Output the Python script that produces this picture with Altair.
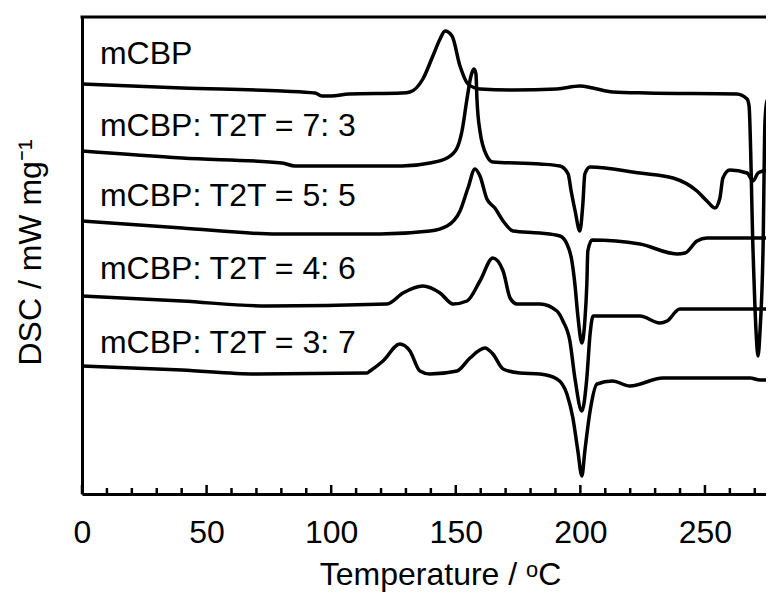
import altair as alt
import pandas as pd

FONT = "Liberation Sans"
W, H = 684, 477

# ---- data (temperature in degC, DSC in arbitrary offset units) ----
mcbp_T = [0, 40.1, 80.3, 93.5, 96.3, 100.0, 107.1, 128.4, 131.6, 136.8, 140.8, 143.7, 145.7, 148.5,
          151.7, 154.9, 159.7, 173.0, 190.6, 199.8, 205.0, 213.0, 226.7, 262.8, 266.9, 267.7,
          269.3, 270.5, 271.3, 272.1, 273.3, 274.1, 274.9, 276.1, 277.7]
mcbp_D = [410, 406, 403, 401, 398, 398, 400, 401, 402, 415, 438, 455, 463, 458,
          428, 410, 405, 404, 405, 408, 406, 402, 401, 400, 395, 388,
          243, 163, 138, 163, 243, 373, 393, 397, 398]

r73_T = [0, 40.1, 80.3, 85.5, 128.4, 139.6, 146.5, 150.5, 152.5, 154.5, 156.1, 157.3, 158.1,
         158.5, 159.7, 162.5, 164.9, 183.8, 191.8, 195.1, 196.3, 197.9, 199.8, 201.0, 201.8,
         203.9, 223.9, 237.2, 246.8, 250.8, 254.0, 256.0, 257.2, 260.0, 266.9, 269.3, 271.3,
         273.3, 277.7]
r73_D = [343, 336, 331, 328, 328, 331, 336, 346, 363, 395, 418, 425, 420,
         395, 363, 338, 332, 330, 328, 320, 303, 283, 263, 290, 320,
         327, 321, 316, 303, 293, 286, 296, 316, 324, 321, 313, 321,
         323, 324]

r55_T = [0, 40.1, 78.2, 119.6, 139.6, 146.5, 151.7, 154.9, 157.7, 159.7, 162.5, 165.7, 169.0,
         173.0, 183.8, 191.8, 194.6, 196.6, 197.8, 199.0, 200.6, 201.8, 202.6, 203.0, 204.7,
         223.9, 238.8, 242.0, 246.8, 250.8, 277.7]
r55_D = [273, 266, 260, 260, 263, 268, 283, 306, 325, 318, 295, 286, 273,
         263, 261, 258, 250, 233, 210, 178, 151, 173, 210, 243, 254,
         250, 240, 241, 253, 256, 256]

r46_T = [0, 40.1, 74.2, 122.4, 128.8, 136.8, 143.7, 148.9, 154.5, 159.7, 164.9, 169.0, 171.8,
         174.6, 183.8, 190.6, 193.0, 195.8, 197.8, 200.6, 202.6, 203.9, 205.1, 223.9, 231.9,
         234.8, 239.9, 277.7]
r46_D = [198, 193, 188, 190, 201, 208, 201, 190, 193, 213, 236, 223, 196,
         190, 190, 183, 173, 153, 116, 83, 116, 160, 178, 178, 171,
         173, 185, 185]

r37_T = [0, 40.1, 70.2, 114.4, 115.6, 120.8, 127.6, 131.6, 135.6, 139.6, 150.5, 155.7, 161.7,
         164.9, 169.0, 175.8, 183.8, 190.6, 194.6, 197.0, 199.0, 200.6, 201.8, 203.9, 206.7,
         212.8, 219.9, 233.1, 268.1, 272.1, 277.7]
r37_D = [128, 124, 120, 121, 123, 133, 150, 143, 123, 120, 123, 136, 146,
         140, 125, 121, 120, 115, 100, 76, 43, 18, 43, 83, 110,
         113, 108, 116, 116, 114, 114]

labels = ["mCBP", "mCBP: T2T = 7: 3", "mCBP: T2T = 5: 5", "mCBP: T2T = 4: 6", "mCBP: T2T = 3: 7"]
label_T = [7.2, 7.2, 7.2, 7.2, 7.2]
label_D = [430, 358, 288, 215, 141]

major_ticks = [0, 50, 100, 150, 200, 250]
minor_ticks = [10, 20, 30, 40, 60, 70, 80, 90, 110, 120, 130, 140, 160, 170, 180, 190,
               210, 220, 230, 240, 260, 270]

# ---- build tables ----
series = [("mCBP", mcbp_T, mcbp_D), ("7:3", r73_T, r73_D), ("5:5", r55_T, r55_D),
          ("4:6", r46_T, r46_D), ("3:7", r37_T, r37_D)]
rows = []
for name, Ts, Ds in series:
    for i, (t, d) in enumerate(zip(Ts, Ds)):
        rows.append({"series": name, "T": t, "D": d, "order": i})
df = pd.DataFrame(rows)
lab_df = pd.DataFrame({"T": label_T, "D": label_D, "label": labels})
major_df = pd.DataFrame({"T": major_ticks})
minor_df = pd.DataFrame({"T": minor_ticks})

xscale = alt.Scale(domain=[0, 274.5], nice=False, zero=False)
yscale = alt.Scale(domain=[0, 477], nice=False, zero=False)

xaxis = alt.Axis(values=major_ticks, format="d", labelFontSize=32, labelFont=FONT,
                 labelColor="black", labelBaseline="alphabetic", labelPadding=48,
                 labelFlush=False, labelOverlap=False, ticks=False, tickSize=0,
                 domainWidth=3, domainColor="black", grid=False,
                 title="Temperature / ᵒC", titleFontSize=32, titleFont=FONT,
                 titleFontWeight="normal", titleColor="black", titleX=358, titleY=90,
                 titleBaseline="alphabetic", titleAlign="center")
yaxis = alt.Axis(labels=False, ticks=False, tickSize=0, domainWidth=3, domainColor="black",
                 grid=False, title="DSC / mW mg⁻¹", titleFontSize=32, titleFont=FONT,
                 titleFontWeight="normal", titleColor="black", titleX=-42, titleY=235,
                 titleAlign="center", titleBaseline="alphabetic", titleAngle=270)

X = alt.X("T:Q", scale=xscale, axis=xaxis)
Y = alt.Y("D:Q", scale=yscale, axis=yaxis)

lines = alt.Chart(df).mark_line(color="black", strokeWidth=3.5, clip=True,
                                interpolate="monotone").encode(
    x=X, y=Y, detail="series:N", order="order:Q")

texts = alt.Chart(lab_df).mark_text(align="left", baseline="alphabetic", fontSize=32,
                                    font=FONT, color="black").encode(
    x=X, y=Y, text="label:N")

top_border = alt.Chart(pd.DataFrame({"k": [0]})).mark_rule(
    color="black", strokeWidth=3, strokeCap="square").encode(
    x=alt.value(0), x2=alt.value(W), y=alt.value(0))

major = alt.Chart(major_df).mark_rule(color="black", strokeWidth=2.5).encode(
    x=X, y=alt.value(H), y2=alt.value(H - 9))
minor = alt.Chart(minor_df).mark_rule(color="black", strokeWidth=2.5).encode(
    x=X, y=alt.value(H), y2=alt.value(H - 6))

chart = alt.layer(lines, texts, major, minor, top_border).properties(
    width=W, height=H,
    padding={"left": 74, "top": 9, "right": 0, "bottom": 100},
    autosize=alt.AutoSizeParams(type="none"),
).configure_view(strokeWidth=0)

chart.save("out.html", embed_options={"renderer": "svg", "actions": False})
